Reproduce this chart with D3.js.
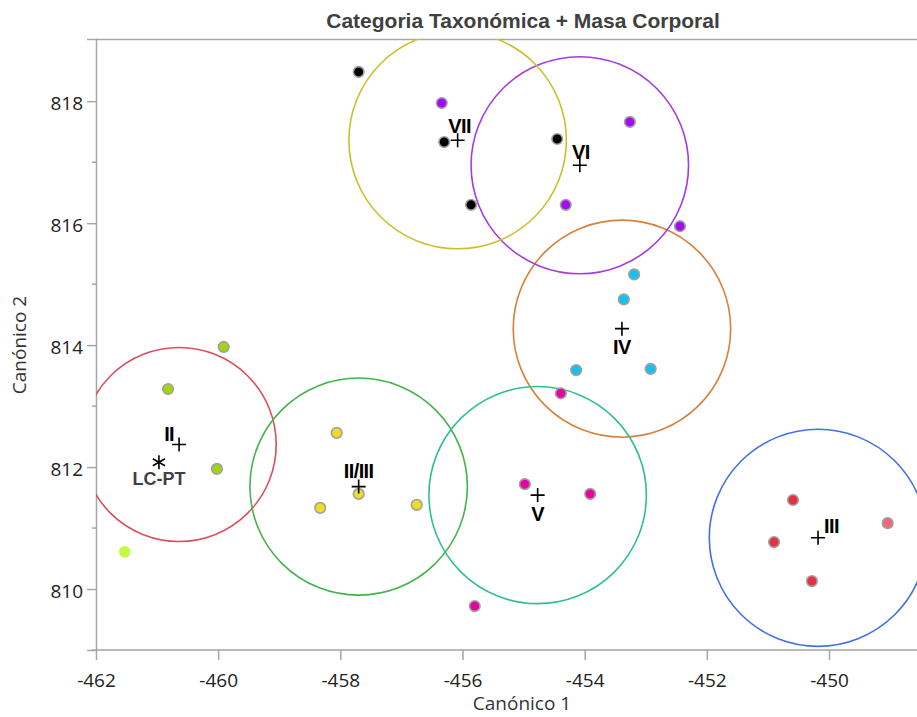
<!DOCTYPE html>
<html>
<head>
<meta charset="utf-8">
<script src="https://cdn.jsdelivr.net/npm/d3@7"></script>
<style>
  body { margin: 0; background: #fff; }
  svg { display: block; }
</style>
</head>
<body>
<div id="chart"></div>
<script>
// grupos (categoría taxonómica) con su centroide y radio del círculo
const groups   = ["II", "II/III", "III", "IV", "V", "VI", "VII"];
const centX    = [-460.64, -457.70, -450.18, -453.39, -454.77, -454.08, -456.08];
const centY    = [812.37, 811.68, 810.84, 814.27, 811.54, 816.95, 817.36];
const radius   = [1.59, 1.78, 1.78, 1.78, 1.78, 1.78, 1.78];
const ringCol  = ["#dc4f5e", "#45b34b", "#4471e0", "#d7813a", "#2fbf95", "#a43be0", "#cbbf2d"];

// observaciones
const ptX = [-459.91, -460.82, -460.02, -461.53,
             -458.06, -458.33, -457.70, -456.75,
             -450.59, -450.90, -450.28, -449.04,
             -453.19, -453.36, -454.14, -452.92,
             -454.39, -454.98, -453.91, -455.80,
             -456.34, -453.26, -454.31, -452.44,
             -457.70, -456.30, -455.86, -454.45];
const ptY = [813.97, 813.28, 811.97, 810.61,
             812.56, 811.33, 811.56, 811.38,
             811.46, 810.77, 810.13, 811.08,
             815.16, 814.75, 813.59, 813.61,
             813.21, 811.72, 811.56, 809.72,
             817.97, 817.66, 816.30, 815.95,
             818.48, 817.33, 816.30, 817.38];
const ptCol = ["#a3d312", "#a3d312", "#a3d312", "#c4fb3c",
               "#f0dc22", "#f0dc22", "#f0dc22", "#f0dc22",
               "#e8303f", "#e8303f", "#e8303f", "#f26676",
               "#10c3f2", "#10c3f2", "#10c3f2", "#10c3f2",
               "#e4069e", "#e4069e", "#e4069e", "#e4069e",
               "#a30cf5", "#a30cf5", "#a30cf5", "#a30cf5",
               "#000000", "#000000", "#000000", "#000000"];
const ptOutline = [1, 1, 1, 0, 1, 1, 1, 1, 1, 1, 1, 1, 1, 1, 1, 1, 1, 1, 1, 1, 1, 1, 1, 1, 1, 1, 1, 1];

// punto de la especie LC-PT
const lcX = -460.97, lcY = 812.08;

const xTicks = [-462, -460, -458, -456, -454, -452, -450];
const yTicks = [810, 812, 814, 816, 818];
const yMinor = [809, 811, 813, 815, 817];

const W = 917, H = 717;
const margin = {top: 39, right: 0, bottom: 67, left: 96};
const width = W - margin.left - margin.right;
const height = H - margin.top - margin.bottom;

const svg = d3.select("#chart").append("svg")
    .attr("width", W)
    .attr("height", H);

const x = d3.scaleLinear().domain([-462, -448.56]).range([margin.left, margin.left + width]);
const y = d3.scaleLinear().domain([809, 819.02]).range([margin.top + height, margin.top]);

svg.append("clipPath").attr("id", "clip")
  .append("rect")
    .attr("x", margin.left).attr("y", margin.top)
    .attr("width", width).attr("height", height);

// titulo
svg.append("text")
    .attr("x", 523).attr("y", 28)
    .attr("text-anchor", "middle")
    .style("font-family", "'Liberation Sans', Arial, sans-serif")
    .style("font-weight", "bold")
    .style("font-size", "21px")
    .style("fill", "#404040")
    .text("Categoria Taxonómica + Masa Corporal");

// borde superior
svg.append("line")
    .attr("x1", margin.left).attr("x2", W)
    .attr("y1", margin.top + 0.5).attr("y2", margin.top + 0.5)
    .attr("stroke", "#a6a6a6").attr("stroke-width", 1.5);

// ejes
const tickFont = "'Open Sans', 'Noto Sans', sans-serif";

const xAxis = svg.append("g")
    .attr("transform", `translate(0,${margin.top + height})`)
    .call(d3.axisBottom(x).tickValues(xTicks).tickSize(10).tickPadding(14).tickFormat(d => String(d)));

const yAxis = svg.append("g")
    .attr("transform", `translate(${margin.left},0)`)
    .call(d3.axisLeft(y).tickValues(yTicks).tickSize(9).tickPadding(4).tickFormat(d => String(d)));

yAxis.selectAll(".minor")
    .data(yMinor)
    .enter().append("line")
    .attr("class", "minor")
    .attr("x1", -4).attr("x2", 0)
    .attr("y1", d => y(d)).attr("y2", d => y(d));

[xAxis, yAxis].forEach(g => {
    g.select(".domain").attr("stroke", "#a6a6a6").attr("stroke-width", 1.5);
    g.selectAll("line").attr("stroke", "#a6a6a6").attr("stroke-width", 1.5);
    g.selectAll("text")
        .style("font-family", tickFont)
        .style("font-size", "19px")
        .style("fill", "#222");
});
xAxis.select(".domain").attr("d", `M${margin.left},0H${W}`);
yAxis.selectAll(".tick text").attr("dy", "0.45em");

// titulos de ejes
svg.append("text")
    .attr("x", 522).attr("y", 710)
    .attr("text-anchor", "middle")
    .style("font-family", tickFont)
    .style("font-size", "19px")
    .style("fill", "#333")
    .text("Canónico 1");

svg.append("text")
    .attr("transform", "translate(26,345) rotate(-90)")
    .attr("text-anchor", "middle")
    .style("font-family", tickFont)
    .style("font-size", "19px")
    .style("fill", "#333")
    .text("Canónico 2");

const plot = svg.append("g").attr("clip-path", "url(#clip)");

// circulos de confianza
plot.selectAll(".ring")
    .data(groups)
    .enter().append("ellipse")
    .attr("class", "ring")
    .attr("cx", (d, i) => x(centX[i]))
    .attr("cy", (d, i) => y(centY[i]))
    .attr("rx", (d, i) => x(centX[i] + radius[i]) - x(centX[i]))
    .attr("ry", (d, i) => y(centY[i]) - y(centY[i] + radius[i]))
    .attr("fill", "none")
    .attr("stroke", (d, i) => ringCol[i])
    .attr("stroke-width", 1.6);

// puntos
plot.selectAll(".pt")
    .data(ptX)
    .enter().append("circle")
    .attr("class", "pt")
    .attr("cx", (d, i) => x(ptX[i]))
    .attr("cy", (d, i) => y(ptY[i]))
    .attr("r", (d, i) => ptOutline[i] ? 5.3 : 5.8)
    .attr("fill", (d, i) => ptCol[i])
    .attr("stroke", (d, i) => ptOutline[i] ? "#a0a0a0" : "none")
    .attr("stroke-width", 1.6);

// centroides (+)
plot.selectAll(".cent")
    .data(groups)
    .enter().append("path")
    .attr("class", "cent")
    .attr("transform", (d, i) => `translate(${x(centX[i])},${y(centY[i])})`)
    .attr("d", "M-7,0H7M0,-7V7")
    .attr("stroke", "#000")
    .attr("stroke-width", 1.6);

// etiquetas de grupo
const lblDx = [-5, 0, 6, 0, 0, 1, 2];
const lblDy = [-4, -9, -5, 25, 26, -6, -7];
const lblAnchor = ["end", "middle", "start", "middle", "middle", "middle", "middle"];
plot.selectAll(".lbl")
    .data(groups)
    .enter().append("text")
    .attr("class", "lbl")
    .attr("x", (d, i) => x(centX[i]) + lblDx[i])
    .attr("y", (d, i) => y(centY[i]) + lblDy[i])
    .attr("text-anchor", (d, i) => lblAnchor[i])
    .style("font-family", "'Liberation Sans', Arial, sans-serif")
    .style("font-weight", "bold")
    .style("font-size", "20px")
    .style("letter-spacing", "-0.6px")
    .style("fill", "#000")
    .text(d => d);

// LC-PT
const lc = plot.append("g").attr("transform", `translate(${x(lcX)},${y(lcY)})`);
lc.append("path")
    .attr("d", "M0,-7V7M-6.1,-3.5L6.1,3.5M-6.1,3.5L6.1,-3.5")
    .attr("stroke", "#000")
    .attr("stroke-width", 1.6);
lc.append("text")
    .attr("x", 0).attr("y", 23)
    .attr("text-anchor", "middle")
    .style("font-family", "'Liberation Sans', Arial, sans-serif")
    .style("font-weight", "bold")
    .style("font-size", "18px")
    .style("fill", "#404040")
    .text("LC-PT");
</script>
</body>
</html>
